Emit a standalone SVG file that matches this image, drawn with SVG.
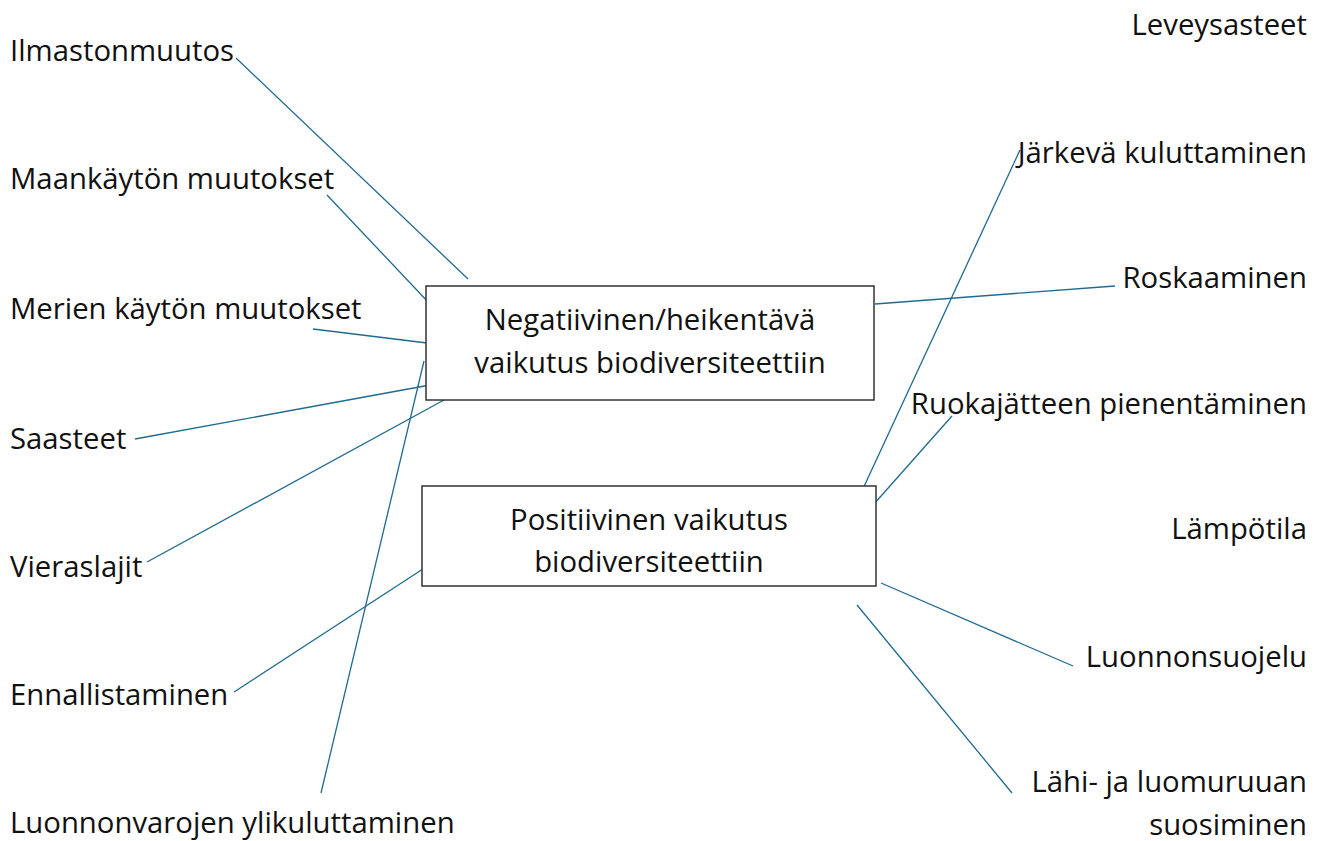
<svg xmlns="http://www.w3.org/2000/svg" width="1325" height="841" viewBox="0 0 1325 841">
<style>
text{font-family:"Open Sans","Noto Sans","Liberation Sans",sans-serif;font-size:29.3px;fill:#111}
.r{text-anchor:end}
.c{text-anchor:middle}
.box{fill:#fff;stroke:#333;stroke-width:1.5}
#connectors line{stroke:#1f6a8f;stroke-width:1.3}
</style>
<rect width="1325" height="841" fill="#fff"/>
<g id="connectors">
<line x1="236" y1="58" x2="468" y2="279"/>
<line x1="327" y1="195" x2="430" y2="304"/>
<line x1="313" y1="329" x2="427" y2="343"/>
<line x1="135" y1="439" x2="430" y2="385"/>
<line x1="147" y1="562" x2="444" y2="400"/>
<line x1="234" y1="692" x2="426" y2="567"/>
<line x1="321" y1="793" x2="424" y2="361"/>
<line x1="1020" y1="150" x2="861" y2="493"/>
<line x1="1115" y1="286" x2="875" y2="304"/>
<line x1="952" y1="416" x2="874" y2="504"/>
<line x1="881" y1="583" x2="1073" y2="666"/>
<line x1="857" y1="605" x2="1012" y2="793"/>
</g>
<g id="negative">
<rect class="box" x="426" y="286" width="448" height="114"/>
<text class="c" x="650" y="330">Negatiivinen/heikentävä</text>
<text class="c" x="650" y="373">vaikutus biodiversiteettiin</text>
</g>
<g id="positive">
<rect class="box" x="422" y="486" width="454" height="100"/>
<text class="c" x="649" y="530">Positiivinen vaikutus</text>
<text class="c" x="649" y="572">biodiversiteettiin</text>
</g>
<g id="ilmastonmuutos"><text x="10" y="61">Ilmastonmuutos</text></g>
<g id="maankaytto"><text x="10" y="189">Maankäytön muutokset</text></g>
<g id="merien"><text x="10" y="319">Merien käytön muutokset</text></g>
<g id="saasteet"><text x="10" y="449">Saasteet</text></g>
<g id="vieraslajit"><text x="10" y="577">Vieraslajit</text></g>
<g id="ennallistaminen"><text x="10" y="705">Ennallistaminen</text></g>
<g id="luonnonvarat"><text x="10" y="833">Luonnonvarojen ylikuluttaminen</text></g>
<g id="leveysasteet"><text class="r" x="1307" y="35">Leveysasteet</text></g>
<g id="jarkeva"><text class="r" x="1307" y="163">Järkevä kuluttaminen</text></g>
<g id="roskaaminen"><text class="r" x="1307" y="288">Roskaaminen</text></g>
<g id="ruokajate"><text class="r" x="1307" y="414">Ruokajätteen pienentäminen</text></g>
<g id="lampotila"><text class="r" x="1307" y="539">Lämpötila</text></g>
<g id="luonnonsuojelu"><text class="r" x="1307" y="667">Luonnonsuojelu</text></g>
<g id="lahiruoka"><text class="r" x="1307" y="792">Lähi- ja luomuruuan</text><text class="r" x="1307" y="835">suosiminen</text></g>
</svg>
